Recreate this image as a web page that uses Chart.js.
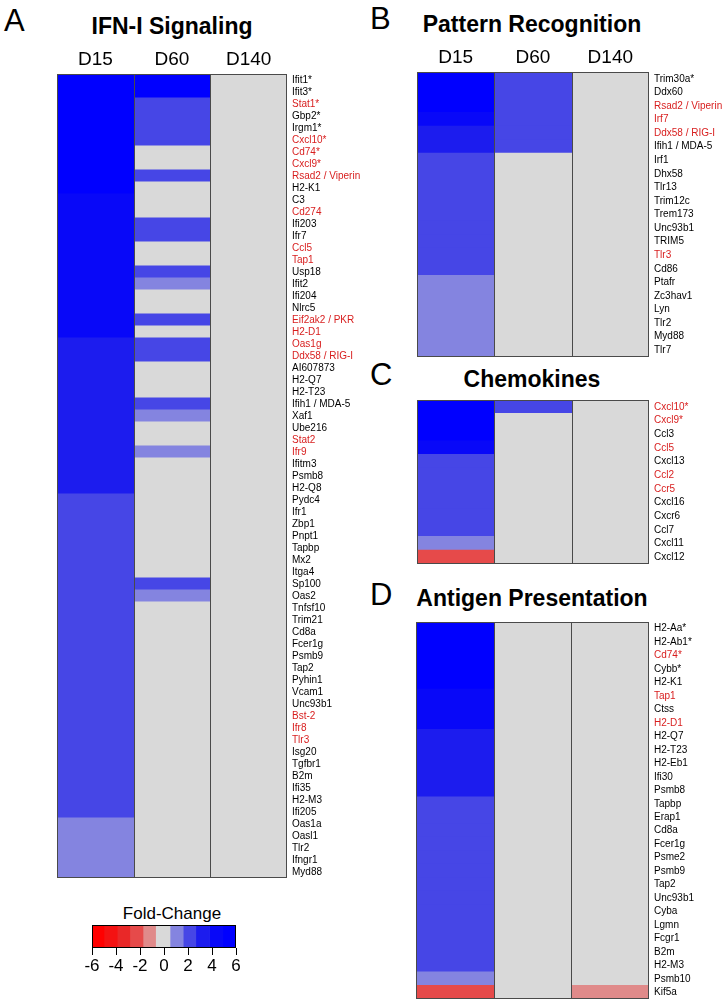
<!DOCTYPE html>
<html lang="en">
<head>
    <meta charset="UTF-8">
    <title>Heatmaps IFN-I</title>
    <script src="https://cdn.jsdelivr.net/npm/chart.js"></script>
    <style>
        body {
            margin: 0;
            background-color: #ffffff;
            font-family: Arial, "Liberation Sans", sans-serif;
        }
        #page {
            position: relative;
            width: 725px;
            height: 1004px;
            overflow: hidden;
        }
        .txt {
            position: absolute;
            line-height: 1;
            white-space: nowrap;
            color: #000;
        }
        .letter { font-size: 31px; }
        .title {
            font-size: 23px;
            font-weight: bold;
            transform: translateX(-50%);
        }
        canvas { position: absolute; }
    </style>
</head>
<body>
<div id="page">
    <div class="txt letter" style="left:4px; top:5px;">A</div>
    <div class="txt title" style="left:172px; top:15px;">IFN-I Signaling</div>
    <div class="txt letter" style="left:370px; top:3px;">B</div>
    <div class="txt title" style="left:532px; top:13px;">Pattern Recognition</div>
    <div class="txt letter" style="left:370px; top:359px;">C</div>
    <div class="txt title" style="left:532px; top:368px;">Chemokines</div>
    <div class="txt letter" style="left:370px; top:579px;">D</div>
    <div class="txt title" style="left:532px; top:587px;">Antigen Presentation</div>
    <div class="txt" style="left:172px; top:905px; font-size:17px; transform:translateX(-50%);">Fold-Change</div>

    <canvas id="panelA" width="313" height="834" style="left:57px; top:44px;"></canvas>
    <canvas id="panelB" width="308" height="315" style="left:417px; top:42px;"></canvas>
    <canvas id="panelC" width="308" height="164" style="left:417px; top:400px;"></canvas>
    <canvas id="panelD" width="309" height="377" style="left:416px; top:622px;"></canvas>
    <canvas id="leyenda" width="224" height="62" style="left:52px; top:920px;"></canvas>
</div>

<script>
    // columnas (dias)
    const columnas = ['D15', 'D60', 'D140'];

    // Panel A - IFN-I Signaling
    const genesA = ['Ifit1*', 'Ifit3*', 'Stat1*', 'Gbp2*', 'Irgm1*', 'Cxcl10*', 'Cd74*', 'Cxcl9*',
        'Rsad2 / Viperin', 'H2-K1', 'C3', 'Cd274', 'Ifi203', 'Ifr7', 'Ccl5', 'Tap1', 'Usp18', 'Ifit2',
        'Ifi204', 'Nlrc5', 'Eif2ak2 / PKR', 'H2-D1', 'Oas1g', 'Ddx58 / RIG-I', 'AI607873', 'H2-Q7',
        'H2-T23', 'Ifih1 / MDA-5', 'Xaf1', 'Ube216', 'Stat2', 'Ifr9', 'Ifitm3', 'Psmb8', 'H2-Q8',
        'Pydc4', 'Ifr1', 'Zbp1', 'Pnpt1', 'Tapbp', 'Mx2', 'Itga4', 'Sp100', 'Oas2', 'Tnfsf10',
        'Trim21', 'Cd8a', 'Fcer1g', 'Psmb9', 'Tap2', 'Pyhin1', 'Vcam1', 'Unc93b1', 'Bst-2', 'Ifr8',
        'Tlr3', 'Isg20', 'Tgfbr1', 'B2m', 'Ifi35', 'H2-M3', 'Ifi205', 'Oas1a', 'Oasl1', 'Tlr2',
        'Ifngr1', 'Myd88'];
    const rojosA = ['Stat1*', 'Cxcl10*', 'Cd74*', 'Cxcl9*', 'Rsad2 / Viperin', 'Cd274', 'Ccl5', 'Tap1',
        'Eif2ak2 / PKR', 'H2-D1', 'Oas1g', 'Ddx58 / RIG-I', 'Stat2', 'Ifr9', 'Bst-2', 'Ifr8', 'Tlr3'];
    const a_D15 = [5.5, 5.5, 5.5, 5.5, 5.5, 5.5, 5.5, 5.5, 5.5, 5.5,
        4.3, 4.3, 4.3, 4.3, 4.3, 4.3, 4.3, 4.3, 4.3, 4.3, 4.3, 4.3,
        3.2, 3.2, 3.2, 3.2, 3.2, 3.2, 3.2, 3.2, 3.2, 3.2, 3.2, 3.2, 3.2,
        2.2, 2.2, 2.2, 2.2, 2.2, 2.2, 2.2, 2.2, 2.2, 2.2, 2.2, 2.2, 2.2, 2.2,
        2.2, 2.2, 2.2, 2.2, 2.2, 2.2, 2.2, 2.2, 2.2, 2.2, 2.2, 2.2, 2.2,
        1.1, 1.1, 1.1, 1.1, 1.1];
    const a_D60 = [5.5, 5.5, 2.2, 2.2, 2.2, 2.2, 0, 0, 2.2, 0,
        0, 0, 2.2, 2.2, 0, 0, 2.2, 1.1, 0, 0,
        2.2, 0, 2.2, 2.2, 0, 0, 0, 2.2, 1.1, 0,
        0, 1.1, 0, 0, 0, 0, 0, 0, 0, 0,
        0, 0, 2.2, 1.1, 0, 0, 0, 0, 0, 0,
        0, 0, 0, 0, 0, 0, 0, 0, 0, 0,
        0, 0, 0, 0, 0, 0, 0];
    const a_D140 = [0, 0, 0, 0, 0, 0, 0, 0, 0, 0,
        0, 0, 0, 0, 0, 0, 0, 0, 0, 0,
        0, 0, 0, 0, 0, 0, 0, 0, 0, 0,
        0, 0, 0, 0, 0, 0, 0, 0, 0, 0,
        0, 0, 0, 0, 0, 0, 0, 0, 0, 0,
        0, 0, 0, 0, 0, 0, 0, 0, 0, 0,
        0, 0, 0, 0, 0, 0, 0];

    // Panel B - Pattern Recognition
    const genesB = ['Trim30a*', 'Ddx60', 'Rsad2 / Viperin', 'Irf7', 'Ddx58 / RIG-I', 'Ifih1 / MDA-5',
        'Irf1', 'Dhx58', 'Tlr13', 'Trim12c', 'Trem173', 'Unc93b1', 'TRIM5', 'Tlr3', 'Cd86', 'Ptafr',
        'Zc3hav1', 'Lyn', 'Tlr2', 'Myd88', 'Tlr7'];
    const rojosB = ['Rsad2 / Viperin', 'Irf7', 'Ddx58 / RIG-I', 'Tlr3'];
    const b_D15 = [5.5, 5.5, 5.5, 4.3, 3.2, 3.2, 2.2, 2.2, 2.2, 2.2, 2.2, 2.2, 2.2, 2.2, 2.2,
        1.1, 1.1, 1.1, 1.1, 1.1, 1.1];
    const b_D60 = [2.2, 2.2, 2.2, 2.2, 2.2, 2.2, 0, 0, 0, 0, 0, 0, 0, 0, 0, 0, 0, 0, 0, 0, 0];
    const b_D140 = [0, 0, 0, 0, 0, 0, 0, 0, 0, 0, 0, 0, 0, 0, 0, 0, 0, 0, 0, 0, 0];

    // Panel C - Chemokines
    const genesC = ['Cxcl10*', 'Cxcl9*', 'Ccl3', 'Ccl5', 'Cxcl13', 'Ccl2', 'Ccr5', 'Cxcl16', 'Cxcr6',
        'Ccl7', 'Cxcl11', 'Cxcl12'];
    const rojosC = ['Cxcl10*', 'Cxcl9*', 'Ccl5', 'Ccl2', 'Ccr5'];
    const c_D15 = [5.5, 5.5, 5.5, 4.3, 2.2, 2.2, 2.2, 2.2, 2.2, 2.2, 1.1, -2.3];
    const c_D60 = [2.2, 0, 0, 0, 0, 0, 0, 0, 0, 0, 0, 0];
    const c_D140 = [0, 0, 0, 0, 0, 0, 0, 0, 0, 0, 0, 0];

    // Panel D - Antigen Presentation
    const genesD = ['H2-Aa*', 'H2-Ab1*', 'Cd74*', 'Cybb*', 'H2-K1', 'Tap1', 'Ctss', 'H2-D1', 'H2-Q7',
        'H2-T23', 'H2-Eb1', 'Ifi30', 'Psmb8', 'Tapbp', 'Erap1', 'Cd8a', 'Fcer1g', 'Psme2', 'Psmb9',
        'Tap2', 'Unc93b1', 'Cyba', 'Lgmn', 'Fcgr1', 'B2m', 'H2-M3', 'Psmb10', 'Kif5a'];
    const rojosD = ['Cd74*', 'Tap1', 'H2-D1'];
    const d_D15 = [5.5, 5.5, 5.5, 5.5, 5.5, 4.3, 4.3, 4.3, 3.2, 3.2, 3.2, 3.2, 3.2,
        2.2, 2.2, 2.2, 2.2, 2.2, 2.2, 2.2, 2.2, 2.2, 2.2, 2.2, 2.2, 2.2, 1.1, -2.3];
    const d_D60 = [0, 0, 0, 0, 0, 0, 0, 0, 0, 0, 0, 0, 0, 0, 0, 0, 0, 0, 0, 0, 0, 0, 0, 0, 0, 0, 0, 0];
    const d_D140 = [0, 0, 0, 0, 0, 0, 0, 0, 0, 0, 0, 0, 0, 0, 0, 0, 0, 0, 0, 0, 0, 0, 0, 0, 0, 0, 0, -1.2];

    // escala de colores (Fold-Change)
    const escalaBordes = [-6, -5, -3.9, -2.85, -1.75, -0.7, 0.5, 1.6, 2.65, 3.8, 4.9, 6];
    const escalaTicks = [-6, -4, -2, 0, 2, 4, 6];
    const escalaColores = ['#ff0000', '#f41212', '#e92828', '#e64a4a', '#e08a8a', '#d9d9d9',
        '#8484e0', '#4646e6', '#1c1cee', '#0808f8', '#0000ff'];
    const rojo = '#d81e1e';

    Chart.defaults.font.family = 'Arial, "Liberation Sans", sans-serif';
    Chart.defaults.color = '#000';

    function colorDe(v) {
        for (let i = 0; i < escalaColores.length; i++) {
            if (v < escalaBordes[i + 1]) return escalaColores[i];
        }
        return escalaColores[escalaColores.length - 1];
    }

    // marco y separadores de columnas
    const marcoPlugin = {
        id: 'marco',
        afterDatasetsDraw(chart, args, opts) {
            const { ctx, chartArea: a, scales: { x } } = chart;
            ctx.save();
            ctx.strokeStyle = opts.color || '#4a4a4a';
            ctx.lineWidth = 1;
            ctx.beginPath();
            (opts.separadores || []).forEach(v => {
                const px = Math.round(x.getPixelForValue(v)) + 0.5;
                ctx.moveTo(px, a.top);
                ctx.lineTo(px, a.bottom);
            });
            ctx.stroke();
            ctx.strokeRect(Math.round(a.left) + 0.5, Math.round(a.top) + 0.5,
                Math.round(a.width) - 1, Math.round(a.height) - 1);
            ctx.restore();
        }
    };

    function crearHeatmap(id, genes, rojos, series, conCabecera, anchoEtiquetas) {
        return new Chart(document.getElementById(id), {
            type: 'bar',
            data: {
                labels: genes,
                datasets: series.map((valores, i) => ({
                    label: columnas[i],
                    data: valores.map(() => 1), // cada columna ocupa una unidad
                    backgroundColor: valores.map(colorDe),
                    borderWidth: 0,
                    inflateAmount: 0.6,
                    barPercentage: 1,
                    categoryPercentage: 1
                }))
            },
            options: {
                indexAxis: 'y',
                responsive: false,
                animation: false,
                events: [],
                plugins: {
                    legend: { display: false },
                    tooltip: { enabled: false },
                    marco: { separadores: [1, 2] }
                },
                scales: {
                    x: {
                        stacked: true,
                        min: 0,
                        max: columnas.length,
                        position: 'top',
                        display: conCabecera,
                        grid: { display: false, drawTicks: false },
                        border: { display: false },
                        afterBuildTicks: axis => {
                            axis.ticks = columnas.map((c, i) => ({ value: i + 0.5 }));
                        },
                        ticks: {
                            callback: (v, i) => columnas[i],
                            font: { size: 19 },
                            padding: 3,
                            maxRotation: 0,
                            autoSkip: false
                        },
                        afterFit: s => {
                            if (conCabecera) s.height = 30;
                            s.paddingLeft = 0;
                            s.paddingRight = 0;
                        }
                    },
                    y: {
                        stacked: true,
                        position: 'right',
                        grid: { display: false, drawTicks: false },
                        border: { display: false },
                        ticks: {
                            autoSkip: false,
                            font: { size: 10 },
                            padding: 5,
                            color: c => rojos.includes(genes[c.index]) ? rojo : '#000'
                        },
                        afterFit: s => {
                            s.width = anchoEtiquetas;
                            s.paddingTop = 0;
                            s.paddingBottom = 0;
                        }
                    }
                }
            },
            plugins: [marcoPlugin]
        });
    }

    crearHeatmap('panelA', genesA, rojosA, [a_D15, a_D60, a_D140], true, 83);
    crearHeatmap('panelB', genesB, rojosB, [b_D15, b_D60, b_D140], true, 76);
    crearHeatmap('panelC', genesC, rojosC, [c_D15, c_D60, c_D140], false, 76);
    crearHeatmap('panelD', genesD, rojosD, [d_D15, d_D60, d_D140], false, 76);

    // barra de colores
    new Chart(document.getElementById('leyenda'), {
        type: 'bar',
        data: {
            labels: ['Fold-Change'],
            datasets: escalaColores.map((col, i) => ({
                data: [[escalaBordes[i], escalaBordes[i + 1]]],
                backgroundColor: col,
                grouped: false,
                borderWidth: 0,
                barPercentage: 1,
                categoryPercentage: 1
            }))
        },
        options: {
            indexAxis: 'y',
            responsive: false,
            animation: false,
            events: [],
            layout: { padding: { left: 40, right: 40, top: 5 } },
            plugins: {
                legend: { display: false },
                tooltip: { enabled: false },
                marco: { color: '#000' }
            },
            scales: {
                x: {
                    min: -6,
                    max: 6,
                    afterBuildTicks: axis => {
                        axis.ticks = escalaTicks.map(v => ({ value: v }));
                    },
                    ticks: { font: { size: 17 }, padding: 1, maxRotation: 0 },
                    grid: { drawOnChartArea: false, color: '#000', tickLength: 7 },
                    border: { display: false },
                    afterFit: s => { s.height = 34; }
                },
                y: { display: false }
            }
        },
        plugins: [marcoPlugin]
    });
</script>
</body>
</html>
